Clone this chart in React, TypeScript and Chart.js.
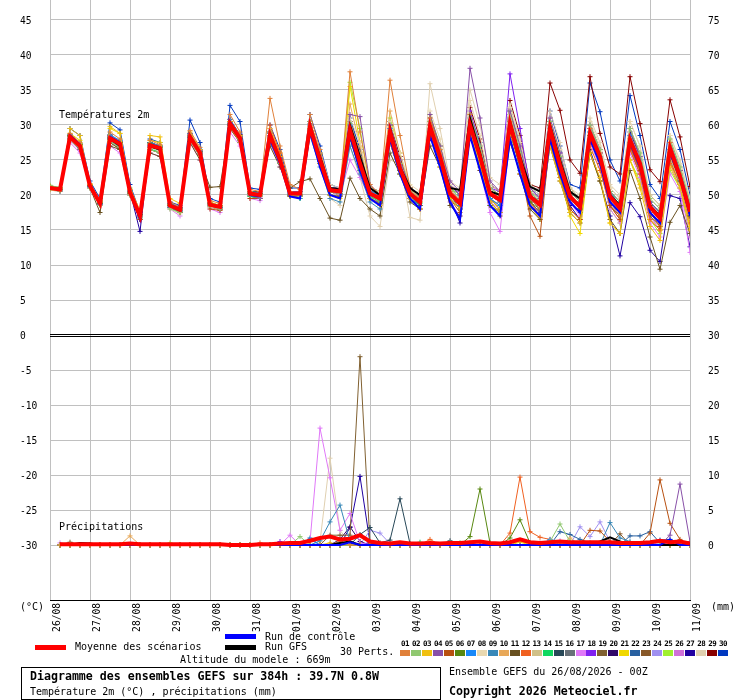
import React, { useEffect, useRef } from "react";
import { Chart, registerables } from "chart.js";

Chart.register(...registerables);

const DATES = ["26/08","27/08","28/08","29/08","30/08","31/08","01/09","02/09","03/09","04/09","05/09","06/09","07/09","08/09","09/09","10/09","11/09"];
const X_TICKS = [0,4,8,12,16,20,24,28,32,36,40,44,48,52,56,60,64];
const Y_TICKS = [-30,-25,-20,-15,-10,-5,0,5,10,15,20,25,30,35,40,45];
const Y2_TICKS = [0,5,10,15,20,25,30,35,40,45,50,55,60,65,70,75];

const PERT_COLORS = ["#e0803a","#90c870","#f0c010","#8850a8","#b85010","#588810","#1888f8","#e8d8b0","#3888b8","#e8a858","#685020","#f06020","#d0c088","#10d860","#284858","#687078","#e078f8","#8020f0","#806030","#300868","#f0d800","#2860a0","#885828","#a090f0","#a0f030","#d070d8","#2000a0","#e0d0b0","#880000","#0038c0"];

// Temperatures 2m (°C), 6-hourly from 26/08 00Z to 11/09 00Z
const T_MEAN = [21.0,20.8,28.3,27.0, 21.3,18.8,28.1,27.3, 20.4,17.0,27.1,26.7, 18.5,17.9,28.3,26.0, 18.6,18.3,30.2,28.1, 20.2,20.0,28.6,25.0, 20.2,20.2,29.8,25.0, 20.7,20.5,29.3,24.5, 20.2,19.5,29.0,23.8, 20.2,19.0,29.8,25.5, 20.2,18.8,30.0,25.5, 20.2,19.3,30.2,25.0, 19.8,18.6,29.5,24.3, 19.8,18.3,28.8,25.5, 19.8,18.1,27.9,24.5, 18.3,16.7,26.7,22.6, 17.6];
const T_CTRL = [21.0,20.8,28.5,27.2, 21.3,18.8,28.3,27.5, 20.5,16.5,27.2,26.8, 18.5,17.8,28.5,26.0, 18.6,18.3,30.5,28.0, 20.0,19.8,28.0,24.5, 19.8,19.5,29.0,24.0, 20.0,19.5,28.5,23.5, 19.5,18.5,28.0,23.0, 19.5,18.0,28.5,24.0, 19.0,16.5,28.5,23.5, 18.5,17.0,28.0,23.0, 18.5,17.0,28.0,23.0, 19.0,17.5,28.0,24.5, 19.0,17.5,27.5,24.0, 17.5,16.0,26.0,22.5, 17.0];
const T_GFS = [21.0,20.9,28.2,27.0, 21.2,18.8,28.0,27.0, 20.3,16.8,27.0,26.5, 18.5,17.8,28.2,26.0, 18.6,18.3,30.0,28.0, 20.2,20.0,28.5,25.0, 20.3,20.3,29.5,25.5, 21.0,20.8,30.0,25.5, 21.0,20.0,29.5,24.0, 21.0,20.0,30.0,25.5, 21.0,20.7,31.0,26.0, 20.5,20.0,30.5,25.5, 21.2,20.5,30.0,25.0, 20.5,19.5,29.0,25.5, 20.0,18.5,28.0,24.5, 18.5,17.0,26.5,22.5, 17.5];
const T01 = [21.2,20.9,28.8,27.5, 21.6,19.2,29.0,28.0, 20.8,17.4,27.8,27.2, 19.0,18.3,29.2,26.8, 19.2,18.8,31.5,29.0, 20.8,20.5,33.8,27.0, 21.5,20.8,31.5,26.5, 21.0,20.8,37.6,29.0, 21.5,20.0,36.4,28.5, 21.0,19.5,31.0,26.5, 20.8,19.2,31.5,26.0, 20.5,19.5,30.5,25.0, 19.5,18.0,30.0,24.0, 20.0,18.5,29.5,26.0, 19.0,17.0,28.0,24.0, 17.5,16.0,27.5,23.0, 18.0];
const T02 = [21.4,21.0,28.0,26.6, 21.0,18.5,27.6,26.8, 20.0,16.8,26.5,26.0, 18.0,17.5,27.8,25.5, 18.5,18.0,29.8,27.5, 20.0,19.8,28.0,24.5, 20.0,19.8,30.5,25.8, 20.5,20.2,30.2,25.2, 20.0,19.0,28.5,24.5, 20.5,19.5,30.5,26.5, 21.0,19.5,31.5,27.0, 21.0,20.0,31.0,26.0, 20.5,19.0,30.5,25.5, 20.5,19.0,30.0,26.5, 20.5,19.0,29.5,26.0, 19.5,18.0,28.0,24.0, 19.0];
const T03 = [20.8,20.6,29.5,28.5, 21.5,19.0,29.8,28.8, 21.0,17.8,28.5,28.3, 19.5,18.8,29.0,26.5, 19.0,18.5,30.5,28.5, 20.5,20.0,29.0,25.5, 20.5,20.0,29.5,24.5, 20.0,19.5,28.5,24.0, 19.5,18.5,27.5,23.0, 19.5,18.0,28.5,24.0, 19.5,18.0,29.0,24.5, 19.0,17.5,28.0,23.0, 18.5,17.0,27.0,22.0, 17.5,16.0,26.0,22.5, 16.0,14.5,25.0,21.0, 15.5,13.5,24.0,21.0, 15.0];
const T04 = [21.0,20.7,28.0,26.5, 21.2,18.6,28.3,27.0, 20.5,17.0,27.0,26.5, 18.3,17.8,28.5,26.3, 18.5,18.0,30.0,28.0, 20.0,19.5,28.5,25.2, 20.5,20.5,30.5,26.0, 21.0,20.8,31.5,31.2, 21.5,20.0,30.0,25.0, 21.0,20.0,31.5,27.0, 22.0,20.5,38.1,31.0, 22.0,20.5,32.0,27.0, 21.0,19.5,31.0,26.0, 20.5,19.0,30.0,26.5, 20.0,18.5,29.5,25.5, 19.0,17.5,27.5,23.5, 18.5];
const T05 = [21.1,20.8,28.5,27.2, 21.4,18.9,28.0,27.0, 20.2,16.5,26.8,26.5, 18.5,17.5,28.0,25.8, 18.0,17.8,29.5,27.5, 19.5,19.5,28.0,24.5, 19.8,19.8,29.0,24.5, 20.0,19.8,29.0,24.0, 19.5,18.8,28.5,23.5, 19.5,18.0,29.0,25.0, 19.5,17.5,29.5,25.0, 19.0,17.5,29.5,24.0, 17.0,14.1,28.0,23.0, 18.0,16.5,28.0,24.5, 18.5,16.5,27.0,23.5, 17.5,15.5,26.0,23.5, 17.0];
const T06 = [21.2,21.1,28.4,27.0, 21.3,18.8,28.2,27.5, 20.4,17.2,27.4,26.8, 18.7,18.0,28.4,26.2, 18.8,18.5,30.0,27.8, 20.2,20.2,28.3,25.0, 20.0,20.0,29.5,24.8, 20.5,20.2,28.8,24.2, 20.0,19.2,28.0,23.5, 20.0,18.5,29.0,25.0, 19.5,18.0,28.5,24.0, 18.5,17.5,27.5,23.5, 19.0,18.0,28.5,23.5, 19.5,18.0,28.5,25.0, 19.5,18.0,27.5,24.0, 18.5,17.0,26.0,22.0, 17.0];
const T07 = [20.9,20.6,28.6,27.3, 21.1,18.7,28.6,27.8, 20.6,17.3,27.5,27.0, 18.8,18.2,28.8,26.5, 18.9,18.5,30.8,28.5, 20.5,20.3,29.0,25.3, 20.3,20.5,30.0,25.5, 21.0,20.8,30.0,25.0, 20.5,20.0,29.5,24.0, 20.0,18.5,29.0,25.0, 20.0,18.5,30.0,25.5, 19.5,18.5,29.5,24.5, 19.5,18.0,29.0,24.5, 20.0,18.5,29.0,25.5, 20.0,18.5,28.5,25.0, 18.0,16.5,26.0,22.0, 17.0];
const T08 = [21.0,20.7,28.2,27.0, 21.0,18.5,27.8,27.0, 20.0,16.8,26.8,26.2, 18.0,17.3,28.0,25.5, 18.3,18.0,29.8,27.8, 20.0,19.8,28.0,24.8, 20.5,20.3,30.0,26.5, 21.5,21.0,31.0,27.5, 21.0,20.5,30.5,26.0, 21.5,20.5,32.0,28.0, 21.5,20.5,33.5,28.5, 21.5,20.5,32.5,27.5, 21.0,20.0,31.0,26.5, 20.5,19.5,30.5,27.0, 21.0,19.5,30.5,27.0, 19.5,18.0,28.5,24.5, 19.5];
const T09 = [20.9,20.6,28.0,26.8, 21.2,18.7,27.8,26.8, 20.2,16.8,26.8,26.3, 18.2,17.6,28.0,25.5, 18.5,18.2,30.0,27.8, 20.0,19.8,27.5,24.5, 20.0,19.5,28.5,24.0, 19.5,19.0,27.0,23.0, 19.0,18.0,27.5,23.0, 19.5,18.5,28.5,24.5, 20.0,18.5,29.0,25.0, 20.0,19.0,30.0,25.0, 20.0,19.0,30.5,25.0, 20.0,18.5,29.0,25.5, 20.5,18.5,27.5,24.0, 19.0,17.5,26.5,22.5, 18.0];
const T10 = [21.3,21.0,28.7,27.4, 21.5,19.0,28.5,27.6, 20.5,17.1,27.3,27.0, 18.6,18.0,28.6,26.4, 18.8,18.4,30.5,28.4, 20.3,20.0,29.5,25.5, 20.5,20.5,30.5,25.5, 21.0,20.8,33.0,27.0, 21.0,20.0,32.0,26.0, 20.5,19.0,30.5,26.0, 20.5,19.0,30.5,26.0, 20.5,19.5,31.0,25.5, 20.0,18.5,29.5,24.5, 20.0,18.5,29.0,25.0, 19.5,17.5,27.0,23.5, 17.5,16.0,25.5,21.5, 16.5];
const T11 = [21.0,20.8,28.0,26.5, 21.0,17.5,27.0,26.5, 20.0,16.5,26.0,25.5, 18.5,17.5,27.5,25.0, 21.1,21.2,30.0,28.0, 20.5,20.5,27.0,24.0, 21.0,21.9,22.3,19.5, 16.7,16.4,22.4,19.5, 18.0,17.0,26.0,23.0, 19.0,18.0,27.0,24.0, 18.5,17.0,28.5,23.5, 18.5,17.0,28.0,23.0, 18.0,16.5,27.0,22.0, 17.5,16.0,26.0,22.0, 16.5,14.5,23.5,19.5, 14.0,9.4,16.1,18.5, 14.5];
const T12 = [21.1,20.9,28.3,27.0, 21.3,18.9,28.3,27.4, 20.4,17.0,27.2,26.8, 18.5,17.9,28.3,26.0, 18.6,18.3,30.2,28.2, 20.2,20.0,30.0,26.0, 20.0,20.0,29.8,25.5, 20.8,20.5,29.5,25.0, 20.5,19.8,29.5,24.5, 20.5,19.5,30.0,26.0, 20.5,19.0,30.5,26.5, 20.0,19.0,29.5,24.5, 19.0,17.0,27.5,22.5, 18.0,16.5,27.0,23.5, 18.5,16.5,26.5,23.0, 16.5,15.0,24.5,22.0, 16.0];
const T13 = [20.7,20.5,27.8,26.5, 21.0,18.6,27.8,27.0, 20.3,16.9,26.9,26.5, 18.4,17.8,28.0,25.8, 18.5,18.1,29.8,27.8, 20.0,19.8,28.5,25.0, 20.3,20.2,29.5,25.0, 21.0,20.8,30.5,26.0, 20.5,19.5,29.0,24.0, 20.8,19.5,30.5,26.0, 20.5,19.0,30.0,25.5, 21.0,20.0,31.5,26.0, 20.5,19.5,31.0,25.5, 21.0,19.5,30.0,26.5, 21.0,19.5,29.5,26.0, 20.0,18.5,28.0,24.0, 19.0];
const T14 = [21.2,21.0,28.5,27.3, 21.4,19.0,28.0,27.2, 20.3,16.8,26.5,26.2, 18.3,17.6,28.0,25.8, 18.4,18.0,29.8,27.5, 19.8,19.5,28.0,24.5, 19.8,19.5,29.0,24.5, 20.0,19.8,28.5,24.0, 19.8,19.0,28.5,23.5, 20.0,18.8,29.5,25.5, 20.5,19.0,30.5,26.0, 20.5,19.5,30.5,25.5, 20.0,19.0,30.0,25.0, 19.5,18.0,28.5,25.0, 19.5,18.0,28.0,25.0, 18.5,17.0,26.5,23.0, 18.0];
const T15 = [21.0,20.8,28.1,26.9, 21.2,18.8,28.0,27.1, 20.4,17.0,27.0,26.6, 18.5,17.8,28.2,26.0, 18.5,18.2,30.0,28.0, 20.0,19.8,28.0,24.8, 20.0,20.0,29.0,24.5, 20.5,20.2,28.0,23.5, 20.0,19.0,27.5,23.0, 20.0,18.5,28.5,24.5, 20.0,18.5,29.5,25.0, 20.5,19.5,30.0,25.0, 20.0,18.5,29.0,24.0, 20.0,18.5,28.0,25.0, 20.0,18.5,27.0,24.0, 18.5,17.0,26.0,22.5, 17.5];
const T16 = [21.0,20.9,28.4,27.1, 21.3,18.8,28.2,27.3, 20.5,17.1,27.2,26.8, 18.6,18.0,28.4,26.1, 18.7,18.4,30.3,28.2, 20.3,20.1,28.8,25.2, 20.3,20.3,30.2,25.5, 21.0,20.8,30.5,25.5, 20.5,20.0,30.0,24.5, 20.5,19.5,30.5,26.0, 20.5,19.0,31.0,26.5, 21.0,20.0,31.5,26.0, 20.5,19.5,30.5,25.5, 20.5,19.0,30.0,26.5, 20.5,19.0,29.5,25.5, 19.0,17.5,27.5,23.5, 18.5];
const T17 = [20.8,20.5,27.5,26.0, 21.0,18.5,27.0,26.0, 20.0,16.5,26.0,25.5, 18.0,17.0,27.5,25.0, 18.0,17.5,29.0,27.0, 19.5,19.2,27.5,24.0, 20.0,20.0,29.0,24.5, 20.5,20.0,25.0,22.5, 19.5,18.5,28.0,23.5, 19.5,18.0,29.0,24.5, 19.0,17.0,28.5,23.5, 17.5,14.8,28.0,23.0, 18.5,17.0,28.5,23.5, 19.0,17.0,27.5,24.0, 18.0,16.0,26.0,22.5, 16.0,14.0,23.0,20.5, 11.8];
const T18 = [21.0,20.7,28.2,26.9, 21.2,18.7,28.0,27.2, 20.4,16.9,27.0,26.6, 18.4,17.8,28.2,25.9, 18.6,18.2,30.0,27.9, 20.2,19.9,28.5,25.0, 20.2,20.2,29.5,25.0, 21.0,20.5,30.0,25.5, 20.5,19.5,29.5,24.5, 20.5,19.5,30.5,26.0, 21.5,20.0,32.0,27.0, 21.0,20.5,37.3,29.5, 21.0,19.5,31.0,26.0, 20.5,19.0,29.5,26.0, 20.0,18.5,28.0,25.0, 18.5,17.0,26.5,23.0, 18.0];
const T19 = [21.1,20.8,28.2,26.8, 21.2,18.5,27.5,26.5, 20.0,16.5,26.5,26.0, 18.5,17.5,28.0,25.5, 18.5,18.0,30.0,27.5, 20.0,19.8,28.5,25.0, 20.5,20.5,30.0,25.5, 20.5,20.5,29.0,24.5, 20.0,19.5,29.5,24.0, 20.0,19.0,30.0,25.5, 20.0,18.5,30.0,25.0, 19.5,18.5,29.5,24.0, 19.5,18.0,29.0,24.0, 19.0,17.5,28.0,24.5, 18.5,17.0,26.5,23.0, 17.0,15.5,25.0,21.5, 16.5];
const T20 = [21.0,20.8,28.6,27.2, 21.4,19.0,28.5,27.5, 20.5,17.2,27.5,27.0, 18.8,18.2,28.7,26.4, 18.9,18.5,30.5,28.3, 20.4,20.2,29.0,25.3, 20.5,20.5,30.5,25.5, 21.0,21.0,30.5,26.0, 21.0,20.0,30.0,24.5, 20.5,19.5,30.0,25.5, 20.5,19.0,30.5,26.0, 20.5,19.5,30.5,25.5, 20.0,19.0,30.0,25.0, 20.5,19.0,29.5,26.0, 20.5,19.0,29.0,25.5, 19.0,17.5,27.5,23.5, 18.5];
const T21 = [21.1,20.8,28.8,27.8, 21.6,19.2,29.5,28.8, 20.8,17.0,27.8,27.5, 18.6,17.8,28.5,26.5, 18.5,18.0,30.5,28.5, 20.5,20.0,29.5,26.0, 20.5,20.0,30.5,26.0, 20.5,20.0,35.5,27.5, 20.5,19.5,30.0,24.5, 20.5,19.0,29.5,24.5, 20.0,18.5,29.5,24.5, 19.5,18.0,28.5,23.0, 18.5,16.5,27.5,22.5, 17.0,14.5,26.0,22.0, 16.0,14.5,25.0,21.5, 16.5,15.0,24.5,21.5, 15.5];
const T22 = [20.9,20.7,28.3,27.0, 21.2,18.8,28.4,27.5, 20.5,17.1,27.3,26.9, 18.6,18.0,28.5,26.2, 18.6,18.3,30.5,28.3, 20.2,20.0,28.8,25.0, 20.2,20.0,29.5,24.8, 20.5,20.0,29.0,24.0, 20.0,19.0,28.5,23.5, 19.5,18.5,29.5,25.0, 20.0,18.5,29.5,25.0, 20.0,19.0,30.0,25.0, 19.5,18.5,29.5,24.5, 19.5,18.0,28.5,25.0, 19.5,18.0,28.0,24.5, 18.0,16.5,26.5,22.5, 17.5];
const T23 = [21.2,20.9,28.0,26.7, 21.3,18.6,27.5,26.6, 20.2,16.7,26.5,26.0, 18.2,17.5,27.8,25.5, 18.3,17.9,29.5,27.5, 19.8,19.5,28.0,24.8, 20.0,19.8,29.0,24.5, 20.5,20.0,28.5,24.0, 20.0,19.0,28.5,23.5, 20.0,18.5,29.5,25.0, 20.0,18.0,29.0,24.5, 19.5,18.0,29.0,24.0, 19.0,17.5,28.5,23.5, 19.5,18.0,28.0,24.5, 19.0,17.5,27.0,23.5, 17.5,16.0,25.5,22.0, 17.0];
const T24 = [21.0,20.7,28.4,27.1, 21.3,18.9,28.4,27.4, 20.5,17.1,27.3,26.9, 18.6,18.1,28.6,26.3, 18.8,18.4,30.4,28.3, 20.3,20.1,28.8,25.2, 20.4,20.4,30.0,25.2, 21.0,21.0,30.0,25.0, 20.5,20.0,29.5,24.5, 20.5,19.5,30.0,26.0, 21.0,19.5,31.0,26.5, 20.5,19.5,31.0,26.0, 20.5,19.0,30.5,25.0, 20.0,18.5,29.5,26.0, 20.0,18.5,28.5,25.0, 18.5,17.0,27.0,23.0, 18.0];
const T25 = [21.3,21.0,28.6,27.3, 21.5,19.0,28.5,27.5, 20.6,17.1,27.5,27.0, 18.7,18.1,28.6,26.3, 18.7,18.4,30.4,28.3, 20.3,20.2,29.5,25.5, 20.5,20.3,30.5,26.0, 21.0,20.5,36.1,29.5, 21.0,20.5,31.0,26.0, 21.0,20.0,31.5,27.0, 21.0,20.0,31.0,27.0, 21.0,20.0,32.0,26.5, 20.5,19.0,30.0,25.0, 19.5,18.0,28.0,24.0, 18.0,16.0,25.0,22.0, 16.5,14.5,23.5,21.0, 15.5];
const T26 = [20.9,20.6,27.8,26.4, 21.0,18.6,27.8,26.8, 20.2,16.8,26.8,26.4, 18.2,17.6,28.0,25.7, 18.3,17.9,29.6,27.6, 19.9,19.7,28.3,24.8, 20.0,20.0,29.3,24.8, 20.5,20.0,29.0,24.5, 19.5,19.0,29.0,24.0, 20.0,18.5,29.5,25.0, 19.5,18.0,29.0,24.5, 19.0,18.0,29.5,24.0, 19.0,17.5,28.5,23.5, 19.0,17.5,28.0,24.5, 18.5,17.0,27.0,23.0, 17.0,15.0,24.5,21.0, 14.0];
const T27 = [21.0,20.8,28.5,27.2, 21.3,18.9,28.5,27.5, 20.5,14.8,27.0,26.8, 18.5,17.8,28.5,26.2, 18.5,18.2,30.2,28.2, 20.2,20.0,28.5,25.0, 20.0,20.0,29.5,24.5, 20.5,20.0,29.0,24.0, 20.0,19.0,28.5,23.5, 20.0,18.5,29.0,24.5, 19.5,16.0,29.0,24.5, 19.5,18.0,29.5,24.0, 19.0,17.5,28.5,23.5, 18.5,16.5,26.5,22.0, 17.0,11.3,18.9,16.9, 12.1,10.5,19.9,19.5, 12.6];
const T28 = [21.1,20.8,28.3,27.0, 21.2,18.6,27.8,27.0, 20.3,16.8,26.8,26.4, 18.3,17.6,28.0,25.7, 18.5,18.0,29.8,27.6, 20.0,19.8,28.5,24.8, 20.3,20.3,29.5,25.0, 19.5,18.5,27.0,22.5, 17.0,15.5,25.0,24.5, 16.8,16.4,35.9,29.5, 22.0,21.0,35.0,30.0, 22.5,21.5,33.0,28.0, 21.5,20.5,32.0,27.5, 21.0,20.0,31.0,27.5, 21.5,20.0,30.5,27.0, 20.0,18.5,28.5,25.0, 19.5];
const T29 = [21.0,20.8,28.5,27.2, 21.4,19.0,28.6,27.6, 20.6,17.2,27.5,27.0, 18.7,18.2,28.8,26.5, 18.8,18.5,30.8,28.6, 20.5,20.3,29.0,25.5, 20.5,20.5,30.5,25.8, 21.0,21.0,30.5,26.0, 21.0,20.5,30.5,25.5, 21.0,20.0,31.0,27.0, 21.5,20.0,32.5,28.0, 21.5,20.5,33.5,28.5, 21.5,21.0,36.0,32.1, 25.0,23.1,36.9,28.8, 24.0,23.0,36.9,30.2, 23.6,21.9,33.6,28.3, 21.2];
const T30 = [21.0,20.5,29.5,28.5, 22.0,19.5,30.3,29.3, 21.5,17.5,28.0,27.5, 19.0,18.5,30.7,27.5, 19.5,19.0,32.8,30.5, 21.0,20.8,30.0,26.5, 21.0,21.0,31.5,27.0, 21.5,21.0,31.0,26.5, 21.0,20.5,30.5,25.5, 21.0,20.0,31.0,27.0, 21.0,20.0,31.5,27.5, 21.5,20.5,32.0,27.5, 21.0,20.0,32.0,27.0, 21.5,21.0,36.0,31.9, 25.0,22.0,34.2,28.5, 21.5,19.5,30.5,26.5, 20.0];

// Precipitations (mm) per 6h, first step has no value
const P_MEAN = [null,0.1,0.1,0.1,0.1,0.1,0.1,0.1, 0.2,0.1,0.1,0.1,0.1,0.1,0.1,0.1, 0.1,0.1,0,0,0,0.1,0.1,0.2, 0.3,0.3,0.6,1.0,1.2,0.8,0.9,1.4, 0.5,0.3,0.2,0.4,0.2,0.2,0.3,0.2, 0.3,0.3,0.4,0.5,0.3,0.2,0.4,0.8, 0.4,0.3,0.4,0.5,0.4,0.4,0.4,0.4, 0.4,0.3,0.3,0.3,0.4,0.6,0.4,0.5, 0.2];
const P_CTRL = [null,0,0,0,0,0,0,0, 0,0,0,0,0,0,0,0, 0,0,0,0,0,0,0,0, 0,0,0,0,0,0,0.4,0, 0,0,0,0,0,0,0,0, 0,0,0,0,0,0,0,0, 0,0,0,0,0,0,0,0, 0,0,0,0,0,0,0.8,0, 0];
const P_GFS = [null,0,0,0.3,0.2,0,0,0, 0,0,0,0,0,0,0,0, 0,0,0,0,0,0,0,0, 0,0,0,0,0,0.3,0.5,0, 0,0,0,0,0,0,0,0, 0,0,0,0,0,0,0,0, 0,0,0,0,0,0,0,0.5, 1.1,0.5,0,0,0,0,0,0, 0];
const P01 = [null,0,0,0,0,0,0,0, 0,0,0,0,0,0,0,0, 0,0,0,0,0,0.3,0,0, 0,0,0,0,0,0.6,0,0, 0,0,0,0,0,0,0,0, 0,0,0,0,0,0,0,0, 0,0,0.4,0,0,0,0,0, 0,0,0,0,0,0,0,0, 0];
const P02 = [null,0,0,0,0,0,0,0, 0,0,0,0,0,0,0,0, 0,0,0,0,0,0,0,0, 0,1.2,0,0,0,0,0,0, 0,0,0,0,0,0,0,0, 0,0,0,0,0,0,0,0, 0,0,0.5,3.0,0.5,0,0,0, 0,0,0,0,0,0,0,0, 0];
const P03 = [null,0,0,0,0,0,0,0, 0,0,0,0,0,0,0,0, 0,0,0,0,0,0,0,0, 0,0,0,0,0.3,0,0,0, 0,0,0,0,0,0,0,0, 0,0,0,0,0,0,0,0.6, 0,0,0,0,0,0,0,0, 0,0,0,0,0,0,0,0, 0];
const P04 = [null,0,0,0,0,0,0,0, 0,0,0,0,0,0,0,0, 0,0,0,0,0,0,0,0, 0,0,0,0,0,0,0,0, 0,0,0,0,0,0,0,0, 0,0,0,0,0,0,0,0, 0,0,0,0,0,0,0,0, 0,0,0,0,0,0,1.4,8.7, 0.5];
const P05 = [null,0,0,0,0,0,0,0, 0,0,0,0,0,0,0,0, 0,0,0,0,0,0,0,0, 0,0,0,0,0,0,0,0, 0,0,0,0,0,0,0,0, 0,0,0,0,0,0,0,0, 0,0,0,0,0,0,2.1,2.0, 0.5,0,0,0,1.7,9.3,3.1,0.8, 0];
const P06 = [null,0,0,0,0,0,0,0, 0,0,0,0,0,0,0,0, 0,0,0,0,0,0,0,0, 0,0,0,0,0,0,0,0, 0,0,0,0,0,0,0,0, 0,0,1.2,8.0,0.3,0,1.0,3.6, 0.3,0,0,0,0,0,0,0, 0,0,0,0,0,0,0,0, 0];
const P07 = [null,0,0,0,0,0,0,0, 0,0,0,0,0,0,0,0, 0,0,0,0,0,0,0,0, 0,0,0.8,0,0,0,0,0, 0,0,0,0,0,0,0,0, 0,0,0,0,0,0,0,0, 0,0,0.8,0,0,0.3,0,0, 0,0,0,0,0,0,0,0, 0];
const P08 = [null,0,0,0,0,0,0,0, 0,0,0,0,0,0,0,0, 0,0,0,0,0,0,0,0, 0,0,0,0,0,0,0,0, 0,0,0,0,0,0,0,0, 0.3,0,0,0,0,0,0,0, 0,0,0,0,0,0,0,0, 0,0,0,0,0,0,0,0, 0];
const P09 = [null,0,0,0,0,0,0,0, 0,0,0,0,0,0,0,0, 0,0,0,0,0,0,0,0, 0,0,0,0.6,3.3,5.7,0.5,0, 0,0,0,0,0,0,0,0, 0,0,0,0,0,0,0,0, 0,0,0,0,0,0,0,0, 3.2,1.0,0.5,0,0,0,0,0, 0];
const P10 = [null,0,0,0,0,0,0,0, 1.3,0,0,0,0,0,0,0, 0,0,0,0,0,0,0,0, 0,0,0,0,0,0,0,0, 0,0,0,0,0,0,0,0, 0,0,0,0,0,0,0,0, 0,0,0,0,1.0,0,0,0, 0,0,0,0,0,0,0,0, 0];
const P11 = [null,0,0,0,0,0,0,0, 0,0,0,0,0,0,0,0, 0,0,0,0,0,0,0,0, 0,0,0,0,0,0,0.5,0, 0,0,0,0,0,0,0,0, 0,0,0,0,0,0,0,0, 0,0,0,0,0,0,0,0, 0,0,0,0,0,0,0,0, 0];
const P12 = [null,0,0,0,0,0,0,0, 0,0,0,0,0,0,0,0, 0,0,0,0,0,0,0,0, 0,0,0,0,0,0,0,0, 0,0,0,0,0,0,0.8,0, 0,0,0,0,0,0,1.7,9.7, 1.9,1.1,0.8,0.3,0,0,0,0, 0,0,0,0,0,0,0,0, 0];
const P13 = [null,0,0,0,0,0,0,0, 0,0,0,0,0,0,0,0, 0,0,0,0,0,0,0,0, 0,0,0,0,0,0,0,0, 0,0,0,0,0,0,0,0, 0,0,0,0,0,0,0,0, 0,0,0,0,0.5,0,0,0, 0,0,0,0,0,0,0,0, 0];
const P14 = [null,0,0,0,0,0,0,0, 0,0,0,0,0,0,0,0, 0,0,0,0,0,0,0,0, 0,0,0,0,0,0,0,0, 0,0,0,0,0,0.4,0,0, 0,0.3,0,0,0,0,0,0, 0,0,0,0,0,0,0,0, 0,0,0,0,0,0,0,0, 0];
const P15 = [null,0,0,0,0,0,0,0, 0,0,0,0,0,0,0,0, 0,0,0,0,0,0,0,0, 0,0,0,0,0,0,0,1.5, 2.5,0.3,0.7,6.6,0.2,0,0,0, 0.6,0,0,0,0,0,0,0, 0,0,0,0,0,0,0,0, 0,0,0,0,0,0,0,0, 0];
const P16 = [null,0,0,0,0,0,0,0, 0,0,0,0,0,0,0,0, 0,0,0,0,0,0,0,0, 0,0,0,0,0,0.5,0,0, 0,0,0,0,0,0,0,0, 0,0,0,0,0,0,0,0, 0,0,0,0,0,0,0,0, 0,0,0,0,0,0,0,0, 0];
const P17 = [null,0.3,0,0,0,0,0,0, 0,0,0,0,0,0,0,0, 0,0,0,0,0,0,0,0, 1.4,0,0.5,16.7,9.6,2.1,4.5,0.3, 0,0,0,0,0,0,0,0, 0,0,0,0,0,0,0,0, 0,0,0,0.6,0,0,0,0, 0,0,0,0,0,0,0,0, 0];
const P18 = [null,0,0,0,0,0,0,0, 0,0,0,0,0,0,0,0, 0,0,0,0,0,0,0,0.5, 0,0,0,0,0,0,0,0, 0.4,0,0,0,0,0,0,0, 0,0,0,0,0,0,0,0, 0,0,0,0,0,0,0,0, 0,0,0,0,0,0,0,0, 0];
const P19 = [null,0,0.4,0,0,0,0,0, 0,0,0,0,0,0,0,0, 0,0,0,0,0,0,0,0, 0,0,0,0,1.4,1.4,1.4,26.9, 0.2,0,0,0,0,0,0,0, 0,0,0,0,0,0,0,0, 0,0,0,0,0,0,0,0, 0,0,0,0,0,0,0,0, 0];
const P20 = [null,0,0,0,0,0,0,0, 0,0,0,0,0,0,0,0, 0,0,0,0,0,0,0,0, 0,0,0,0,0,0.8,2.6,0.5, 0,0,0,0,0,0,0,0, 0,0,0,0,0,0,0,0, 0,0,0,0,0,0,0,0, 0,0,0,0,0,0,0,0, 0];
const P21 = [null,0,0,0,0,0,0,0, 0,0,0,0,0,0,0,0, 0,0,0,0,0,0,0,0, 0,0,0,0,0,0,0,0, 0,0,0,0,0,0,0,0, 0,0,0,0,0,0,0,0.4, 0,0,0,0,0.3,0,0,0, 0,0,0,0,0,0,0,0, 0];
const P22 = [null,0,0,0,0,0,0,0, 0,0,0,0,0,0,0,0, 0,0,0,0,0,0,0,0, 0,0,1.0,0,0,0,0,0, 0,0,0,0,0,0,0,0, 0,0,0,0,0,0,0,0, 0,0,0,1.9,1.5,0.8,0.3,0, 0,0,1.3,1.3,1.9,0.3,0,0, 0];
const P23 = [null,0,0,0,0,0,0,0, 0,0,0,0,0,0,0,0, 0,0,0,0,0,0,0,0, 0,0,0,0,0,0,0,0, 0,0,0,0,0,0,0,0, 0,0,0,0,0,0,0,0, 0,0,0,0,0,0,0,0, 0,1.6,0,0,0,0,0,0, 0];
const P24 = [null,0,0,0,0,0,0,0, 0,0,0,0,0,0,0,0, 0,0,0,0,0,0,0,0, 0,0,0,0,0,0,0,0, 2.1,1.7,0.2,0,0,0,0,0, 0,0,0,0,0,0,0,0, 0,0,0,0,0,2.6,1.2,3.3, 0.5,0,0,0,0,0,0,0, 0];
const P25 = [null,0,0,0,0,0,0,0, 0,0,0,0,0.3,0,0,0, 0,0,0,0,0,0,0,0, 0,0,0,0,0,0,0,0, 0,0,0,0,0,0,0,0, 0,0,0.3,0,0,0,0,0, 0,0,0,0,0,0,0,0, 0,0,0,0,0,0,0,0, 0];
const P26 = [null,0,0,0,0,0,0,0, 0,0,0,0,0,0,0,0, 0,0,0,0,0,0,0,0, 0,0,0,0,0,0,0,0, 0,0,0,0,0,0,0,0, 0,0,0,0,0,0,0,0, 0,0.3,0,0,0,0,0,0, 0,0,0,0,0,0.4,0,0, 0];
const P27 = [null,0,0,0,0,0,0,0, 0,0,0,0,0,0,0,0, 0,0,0,0,0,0,0,0, 0,0,0,0,0,0,2.5,9.8, 0.3,0,0,0,0,0,0,0, 0,0,0,0,0,0,0,0, 0,0,0,0,0,0,0,0, 0,0,0,0,0,0,0,0, 0];
const P28 = [null,0,0,0,0,0,0,0, 0,0,0,0,0,0,0,0, 0,0,0,0,0,0,0,0, 0,0,0,0.5,12.4,2.1,0.3,0, 0,0,0,0,0,0,0,0, 0,0,0,0,0,0,0,0, 0,0,0,0,0,0,0,0, 0,0,0,0,0,0,0,0, 0];
const P29 = [null,0,0,0,0,0,0,0, 0,0,0,0,0,0,0,0, 0,0,0,0,0,0,0,0, 0,0,0,0,0,0,0,0, 0,0,0,0,0,0,0,0, 0,0,0,0,0,0,0,0, 0,0,0,0,0,0,0,0, 0,0,0.3,0,0,0,0,0, 0];
const P30 = [null,0,0,0,0,0,0,0, 0,0,0,0,0,0,0,0, 0,0,0,0,0,0,0,0, 0,0,0,0,0,0,0,0, 0,0,0,0,0,0,0,0, 0,0,0,0,0,0,0,0, 0,0,0,0,0,0,0,0, 0,0,0,0,0,0.7,0.8,0, 0];

const T_PERTS = [T01,T02,T03,T04,T05,T06,T07,T08,T09,T10,T11,T12,T13,T14,T15,T16,T17,T18,T19,T20,T21,T22,T23,T24,T25,T26,T27,T28,T29,T30];
const P_PERTS = [P01,P02,P03,P04,P05,P06,P07,P08,P09,P10,P11,P12,P13,P14,P15,P16,P17,P18,P19,P20,P21,P22,P23,P24,P25,P26,P27,P28,P29,P30];

// Layout constants (pixels / axis extents)
const Y_MIN = -30 - 55 / 7;
const Y_MAX = 45 + 20 / 7;
const PRECIP_SHIFT = 30;
const GRID = "#c0c0c0";
const MONO = "'DejaVu Sans Mono', monospace";

const pts = (arr: (number | null)[]) => arr.map((y, i) => ({ x: i, y }));

const zeroLine = {
  id: "zeroLine",
  beforeDatasetsDraw(chart: any) {
    const { ctx, chartArea, scales } = chart;
    const y = Math.round(scales.y.getPixelForValue(0));
    ctx.save();
    ctx.strokeStyle = "#000";
    ctx.lineWidth = 1;
    [y - 1, y + 1].forEach((yy) => {
      ctx.beginPath();
      ctx.moveTo(chartArea.left, yy + 0.5);
      ctx.lineTo(chartArea.right, yy + 0.5);
      ctx.stroke();
    });
    ctx.restore();
  },
};

function Txt({ x, cy, size = 10, bold = false, children }: any) {
  return (
    <div style={{ position: "absolute", left: x, top: cy - size * 0.6, fontSize: size, lineHeight: `${size * 1.2}px`, fontWeight: bold ? "bold" : "normal", whiteSpace: "pre", fontFamily: MONO, color: "#000" }}>
      {children}
    </div>
  );
}

export default function App() {
  const ref = useRef<HTMLCanvasElement | null>(null);

  useEffect(() => {
    if (!ref.current) return;
    const font = { family: MONO, size: 9.6 };
    const pertDs = (arr: any, color: string, axis: string, k: number) => ({
      data: pts(arr),
      yAxisID: axis,
      borderColor: color,
      backgroundColor: color,
      borderWidth: 1,
      pointStyle: "cross",
      pointRadius: 2.5,
      pointBorderWidth: 1,
      order: 10 + k,
    });
    const datasets: any[] = [
      { data: pts(T_MEAN), yAxisID: "y", borderColor: "#ff0000", borderWidth: 4, pointRadius: 0, order: 0 },
      { data: pts(P_MEAN), yAxisID: "y2", borderColor: "#ff0000", borderWidth: 4, pointRadius: 0, order: 0 },
      { data: pts(T_CTRL), yAxisID: "y", borderColor: "#0000ff", borderWidth: 2, pointRadius: 0, order: 1 },
      { data: pts(P_CTRL), yAxisID: "y2", borderColor: "#0000ff", borderWidth: 2, pointRadius: 0, order: 1 },
      { data: pts(T_GFS), yAxisID: "y", borderColor: "#000000", borderWidth: 2, pointRadius: 0, order: 2 },
      { data: pts(P_GFS), yAxisID: "y2", borderColor: "#000000", borderWidth: 2, pointRadius: 0, order: 2 },
    ];
    T_PERTS.forEach((arr, k) => datasets.push(pertDs(arr, PERT_COLORS[k], "y", k)));
    P_PERTS.forEach((arr, k) => datasets.push(pertDs(arr, PERT_COLORS[k], "y2", k)));

    const chart = new Chart(ref.current, {
      type: "line",
      data: { datasets },
      plugins: [zeroLine],
      options: {
        animation: false,
        responsive: false,
        events: [],
        layout: { padding: { left: 20, right: 0, top: 0, bottom: 0 }, autoPadding: false },
        plugins: { legend: { display: false }, tooltip: { enabled: false } },
        elements: { line: { tension: 0 } },
        scales: {
          x: {
            type: "linear",
            min: 0,
            max: 64,
            afterBuildTicks: (s: any) => { s.ticks = X_TICKS.map((v) => ({ value: v })); },
            afterFit: (s: any) => { s.height = 100; s.paddingLeft = 0; s.paddingRight = 0; },
            grid: { color: GRID, lineWidth: 1, drawTicks: false },
            border: { display: true, color: "#000", width: 1 },
            ticks: { autoSkip: false, minRotation: 90, maxRotation: 90, padding: 3, labelOffset: 7, font, color: "#000", callback: (_v: any, i: number) => DATES[i] },
          },
          y: {
            position: "left",
            min: Y_MIN,
            max: Y_MAX,
            afterBuildTicks: (s: any) => { s.ticks = Y_TICKS.map((v) => ({ value: v })); },
            afterFit: (s: any) => { s.width = 30; s.paddingTop = 0; s.paddingBottom = 0; },
            grid: { color: (c: any) => (c.tick && c.tick.value === 0 ? "rgba(0,0,0,0)" : GRID), lineWidth: 1, drawTicks: false },
            border: { display: false },
            ticks: { crossAlign: "far", padding: 0, font, color: "#000", labelOffset: 1 },
          },
          y2: {
            position: "right",
            min: Y_MIN + PRECIP_SHIFT,
            max: Y_MAX + PRECIP_SHIFT,
            afterBuildTicks: (s: any) => { s.ticks = Y2_TICKS.map((v) => ({ value: v })); },
            afterFit: (s: any) => { s.width = 50; s.paddingTop = 0; s.paddingBottom = 0; },
            grid: { drawOnChartArea: false, drawTicks: false },
            border: { display: false },
            ticks: { crossAlign: "near", padding: 18, font, color: "#000", labelOffset: 1 },
          },
        },
      } as any,
    });
    return () => chart.destroy();
  }, []);

  return (
    <div style={{ position: "absolute", left: 0, top: 0, width: 740, height: 700, background: "#fff", overflow: "hidden" }}>
      <canvas ref={ref} width={740} height={700} style={{ position: "absolute", left: 0, top: 0, display: "block" }} />
      <Txt x={59} cy={115}>Températures 2m</Txt>
      <Txt x={59} cy={527}>Précipitations</Txt>
      <Txt x={20} cy={607}>(°C)</Txt>
      <Txt x={711} cy={607}>(mm)</Txt>

      <div style={{ position: "absolute", left: 35, top: 645, width: 31, height: 5, background: "#ff0000" }} />
      <Txt x={75} cy={647}>Moyenne des scénarios</Txt>
      <div style={{ position: "absolute", left: 225, top: 634, width: 31, height: 5, background: "#0000ff" }} />
      <Txt x={265} cy={637}>Run de contrôle</Txt>
      <div style={{ position: "absolute", left: 225, top: 645, width: 31, height: 5, background: "#000000" }} />
      <Txt x={265} cy={647}>Run GFS</Txt>
      <Txt x={340} cy={652}>30 Perts.</Txt>
      <Txt x={180} cy={660}>Altitude du modele : 669m</Txt>

      {PERT_COLORS.map((c, k) => (
        <React.Fragment key={k}>
          <div style={{ position: "absolute", left: 400 + k * 10.97 - 3, top: 639, width: 16, textAlign: "center", fontSize: 7.5, lineHeight: "9px", fontFamily: MONO, fontWeight: "bold", color: "#000", letterSpacing: -0.5 }}>
            {String(k + 1).padStart(2, "0")}
          </div>
          <div style={{ position: "absolute", left: 400 + k * 10.97, top: 650, width: 10, height: 6, background: c }} />
        </React.Fragment>
      ))}

      <div style={{ position: "absolute", left: 21, top: 667, width: 420, height: 33, boxSizing: "border-box", border: "1px solid #000" }} />
      <Txt x={30} cy={677} size={11.6} bold>Diagramme des ensembles GEFS sur 384h : 39.7N 0.8W</Txt>
      <Txt x={30} cy={692}>Température 2m (°C) , précipitations (mm)</Txt>
      <Txt x={449} cy={672}>Ensemble GEFS du 26/08/2026 - 00Z</Txt>
      <Txt x={449} cy={692} size={11.6} bold>Copyright 2026 Meteociel.fr</Txt>
    </div>
  );
}
